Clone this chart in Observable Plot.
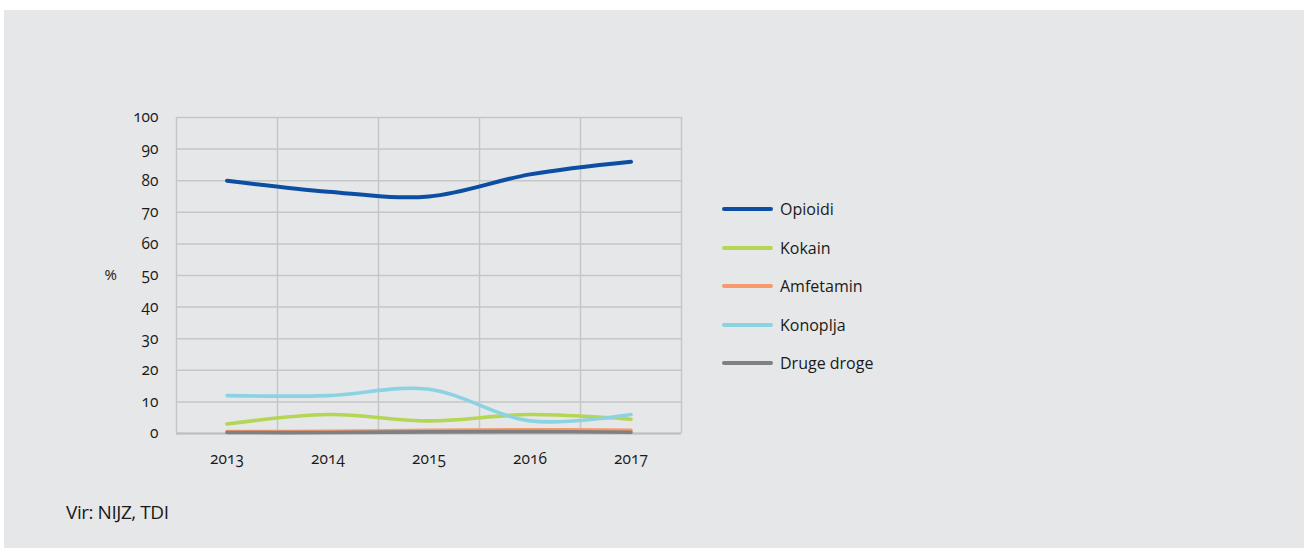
<!DOCTYPE html>
<html>
<head>
<meta charset="utf-8">
<script src="https://cdn.jsdelivr.net/npm/d3@7"></script>
<script src="https://cdn.jsdelivr.net/npm/@observablehq/plot@0.6"></script>
<style>
  html, body { margin: 0; padding: 0; background: #ffffff; }
  #panel {
    position: absolute; left: 4px; top: 10px; width: 1300px; height: 538px;
    background: #e6e7e8; font-family: "Open Sans", "Noto Sans", sans-serif; color: #1a1a1a;
  }
  #chart { position: absolute; left: 0; top: 0; }
  #chart svg text { font-variant-numeric: oldstyle-nums; font-feature-settings: "onum" 1; }
  #legend { position: absolute; left: 718px; top: 180px; }
  .row { display: flex; align-items: center; height: 38.5px; font-size: 16px; }
  .swatch { width: 51px; height: 4px; border-radius: 2px; margin-right: 7px; }
  #source { position: absolute; left: 62px; top: 489px; font-size: 19px; letter-spacing: -0.45px; }
</style>
</head>
<body>
<div id="panel">
  <div id="chart"></div>
  <div id="legend"></div>
  <div id="source">Vir: NIJZ, TDI</div>
</div>
<script>
// Share of treatment entrants by primary drug (%), 2013–2017
const years = [2013, 2014, 2015, 2016, 2017];
const opioidi = [80, 76.5, 75, 82, 86];
const kokain = [3, 6, 4, 6, 4.5];
const amfetamin = [0.6, 0.7, 1.0, 1.2, 1.0];
const konoplja = [12, 12, 14, 4, 6];
const drugeDroge = [0.3, 0.3, 0.5, 0.6, 0.4];
const yTicks = [0, 10, 20, 30, 40, 50, 60, 70, 80, 90, 100];

const seriesNames = ["Opioidi", "Kokain", "Amfetamin", "Konoplja", "Druge droge"];
const seriesValues = [opioidi, kokain, amfetamin, konoplja, drugeDroge];
const seriesColors = ["#0b4ea2", "#b5d554", "#f79a6b", "#8bd3e2", "#808081"];

const rows = seriesNames.flatMap((name, i) =>
  years.map((year, j) => ({series: name, year, value: seriesValues[i][j]}))
);

// category boundaries for the vertical grid
const bounds = [...years.map(y => y - 0.5), years[years.length - 1] + 0.5];

const W = 1300, H = 480;
const chart = Plot.plot({
  width: W,
  height: H,
  marginLeft: 172,
  marginRight: W - 677,
  marginTop: 107,
  marginBottom: H - 423,
  style: {background: "transparent", fontFamily: "'Open Sans', 'Noto Sans', sans-serif", fontSize: "15px", color: "#1a1a1a"},
  x: {type: "linear", domain: [bounds[0], bounds[bounds.length - 1]], label: null},
  y: {domain: [0, 100], label: null},
  color: {domain: seriesNames, range: seriesColors},
  marks: [
    Plot.ruleY(yTicks, {stroke: "#c5c6c8", strokeWidth: 1.5}),
    Plot.ruleX(bounds, {stroke: "#c5c6c8", strokeWidth: 1.5}),
    Plot.ruleY([0], {stroke: "#bdbec0", strokeWidth: 2}),
    Plot.axisX({ticks: years, tickFormat: d => String(d), tickSize: 0, tickPadding: 19, fontSize: 15.5}),
    Plot.axisY({ticks: yTicks, tickSize: 0, tickPadding: 18, fontSize: 15.5}),
    Plot.text(["%"], {frameAnchor: "left", dx: -72, fontSize: 15, fill: "#1a1a1a"}),
    Plot.line(rows, {
      x: "year", y: "value", z: "series", stroke: "series",
      strokeWidth: d => d.series === "Opioidi" ? 4 : 3.6,
      curve: "cardinal", strokeLinecap: "round"
    })
  ]
});
document.getElementById("chart").appendChild(chart);

const legend = document.getElementById("legend");
seriesNames.forEach((name, i) => {
  const row = document.createElement("div");
  row.className = "row";
  const sw = document.createElement("span");
  sw.className = "swatch";
  sw.style.background = seriesColors[i];
  const label = document.createElement("span");
  label.textContent = name;
  row.appendChild(sw);
  row.appendChild(label);
  legend.appendChild(row);
});
</script>
</body>
</html>
